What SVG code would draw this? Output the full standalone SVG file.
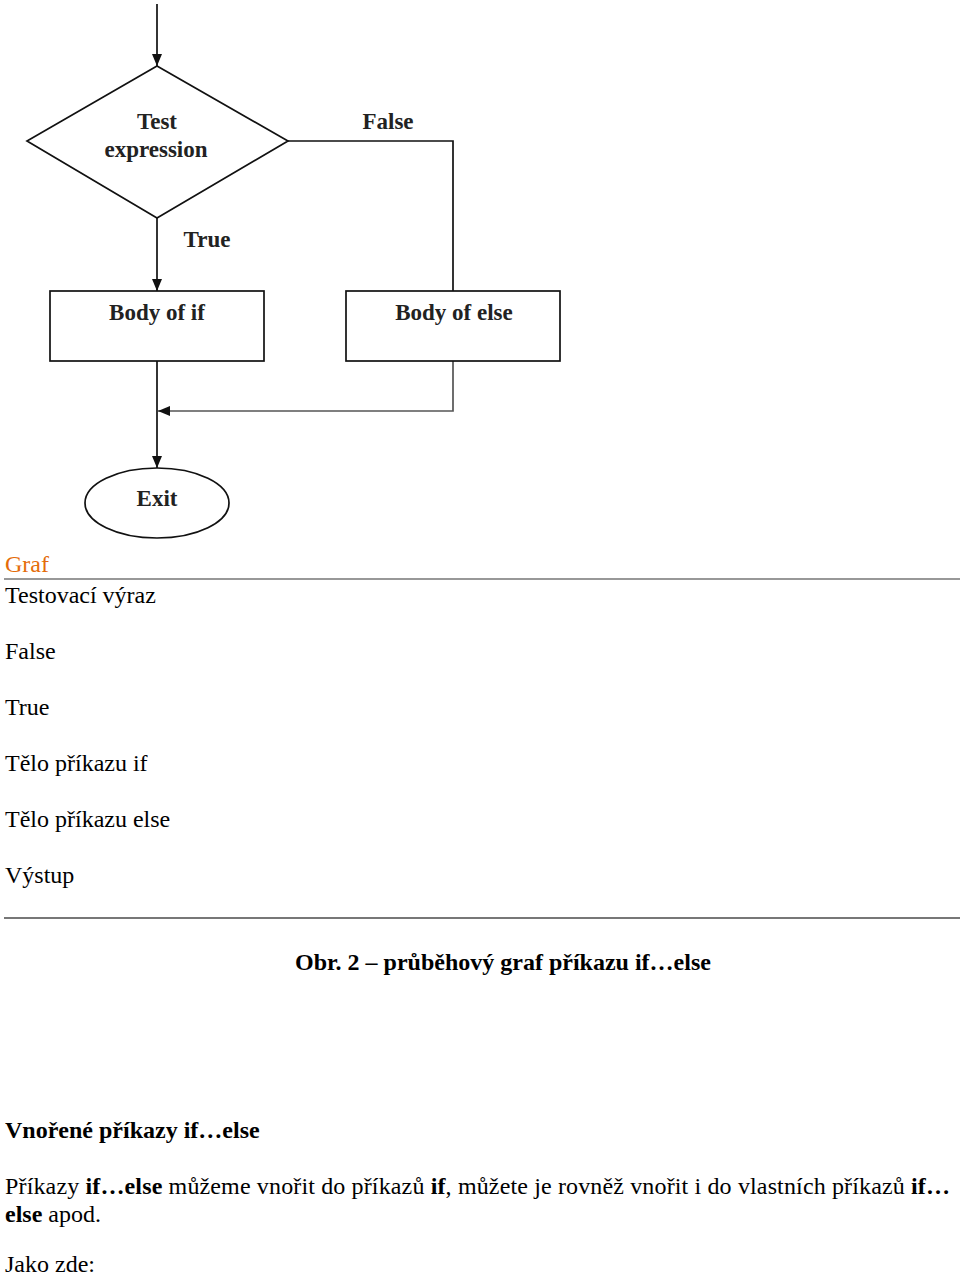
<svg xmlns="http://www.w3.org/2000/svg" width="960" height="1279" viewBox="0 0 960 1279">
<defs>
<marker id="arr" viewBox="0 0 12 10" refX="12" refY="5" markerWidth="12" markerHeight="10" markerUnits="userSpaceOnUse" orient="auto">
<path d="M0,0 L12,5 L0,10 Z" fill="#111"/>
</marker>
</defs>
<style>
.shape{fill:#fff;stroke:#111;stroke-width:1.7}
.lbl{font-family:"Liberation Serif","Times New Roman",serif;font-weight:bold;font-size:23px;fill:#222;text-anchor:middle}
.edge{fill:none;stroke:#111;stroke-width:1.7}
.txt{font-family:"Liberation Serif","Times New Roman",serif;font-size:24px;fill:#000}
.b{font-weight:bold}
</style>
<rect width="960" height="1279" fill="#fff"/>
<g id="connectors">
<line class="edge" x1="157" y1="4" x2="157" y2="66" marker-end="url(#arr)"/>
<polyline class="edge" points="288,141 453,141 453,291"/>
<line class="edge" x1="157" y1="218" x2="157" y2="291" marker-end="url(#arr)"/>
<line class="edge" x1="157" y1="361" x2="157" y2="468" marker-end="url(#arr)"/>
<polyline class="edge" points="453,361 453,411 158,411" style="stroke:#555" marker-end="url(#arr)"/>
<text class="lbl" x="388" y="129">False</text>
<text class="lbl" x="207" y="247">True</text>
</g>
<g id="test">
<polygon class="shape" points="157,66 288,141 157,218 27,141"/>
<text class="lbl" x="157" y="129">Test</text>
<text class="lbl" x="156" y="157">expression</text>
</g>
<g id="body-if">
<rect class="shape" x="50" y="291" width="214" height="70"/>
<text class="lbl" x="157" y="320">Body of if</text>
</g>
<g id="body-else">
<rect class="shape" x="346" y="291" width="214" height="70"/>
<text class="lbl" x="454" y="320">Body of else</text>
</g>
<g id="exit">
<ellipse class="shape" cx="157" cy="503" rx="72" ry="35"/>
<text class="lbl" x="157" y="506">Exit</text>
</g>
<g id="legend">
<text class="txt" x="5" y="572" style="fill:#E46C0A">Graf</text>
<line x1="4" y1="579" x2="960" y2="579" stroke="#333" stroke-width="1.2"/>
<text class="txt" x="5" y="603">Testovací výraz</text>
<text class="txt" x="5" y="659">False</text>
<text class="txt" x="5" y="715">True</text>
<text class="txt" x="5" y="771">Tělo příkazu if</text>
<text class="txt" x="5" y="827">Tělo příkazu else</text>
<text class="txt" x="5" y="883">Výstup</text>
<line x1="4" y1="918" x2="960" y2="918" stroke="#777" stroke-width="2"/>
<text class="txt b" x="503" y="970" text-anchor="middle">Obr. 2 – průběhový graf příkazu if…else</text>
<text class="txt b" x="5" y="1138">Vnořené příkazy if…else</text>
<text class="txt" x="5" y="1194" textLength="945" lengthAdjust="spacing">Příkazy <tspan class="b">if…else</tspan> můžeme vnořit do příkazů <tspan class="b">if</tspan>, můžete je rovněž vnořit i do vlastních příkazů <tspan class="b">if…</tspan></text>
<text class="txt" x="5" y="1222"><tspan class="b">else</tspan> apod.</text>
<text class="txt" x="5" y="1272">Jako zde:</text>
</g>
</svg>
